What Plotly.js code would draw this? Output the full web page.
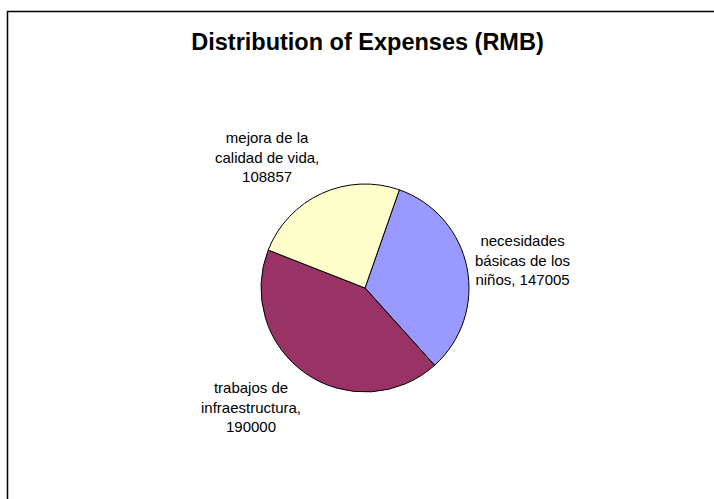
<!DOCTYPE html>
<html>
<head>
<meta charset="utf-8">
<script src="https://cdn.plot.ly/plotly-3.0.1.min.js"></script>
<style>html,body{margin:0;padding:0;background:#fff;}#chart{width:714px;height:499px;}</style>
</head>
<body>
<div id="chart"></div>
<script>
// Data
var labels = ["necesidades básicas de los niños", "trabajos de infraestructura", "mejora de la calidad de vida"];
var values = [147005, 190000, 108857];
var colors = ["#9999FF", "#993366", "#FFFFCC"];
var chartTitle = "Distribution of Expenses (RMB)";

// Label placement (paper pixels) for each slice's data label
var labelPos = [[522, 260], [251, 407], [267, 157]];

function wrap(text, maxChars) {
  var words = text.split(" "), lines = [], cur = "";
  words.forEach(function (w) {
    if (cur === "") cur = w;
    else if ((cur + " " + w).length <= maxChars) cur += " " + w;
    else { lines.push(cur); cur = w; }
  });
  if (cur) lines.push(cur);
  return lines.join("<br>");
}

var W = 714, H = 499;
var cx = 365, cy = 288, R = 104;

var trace = {
  type: "pie",
  labels: labels,
  values: values,
  sort: false,
  direction: "clockwise",
  rotation: 19.3,
  textinfo: "none",
  hoverinfo: "label+value+percent",
  marker: { colors: colors, line: { color: "#000000", width: 1 } },
  domain: { x: [(cx - R) / W, (cx + R) / W], y: [1 - (cy + R) / H, 1 - (cy - R) / H] },
  showlegend: false
};

var annotations = labels.map(function (l, i) {
  return {
    xref: "paper", yref: "paper",
    x: labelPos[i][0] / W, y: 1 - labelPos[i][1] / H,
    xanchor: "center", yanchor: "middle",
    text: wrap(l + ", " + values[i], 16),
    showarrow: false,
    align: "center",
    font: { family: "Liberation Sans, Arial, sans-serif", size: 15, color: "#000" }
  };
});

var layout = {
  width: W, height: H,
  margin: { l: 0, r: 0, t: 0, b: 0 },
  paper_bgcolor: "#ffffff",
  plot_bgcolor: "#ffffff",
  title: {
    text: "<b>" + chartTitle + "</b>",
    x: 367.5 / W, xanchor: "center", xref: "paper",
    y: 1 - 42 / H, yanchor: "middle", yref: "paper",
    font: { family: "Liberation Sans, Arial, sans-serif", size: 23.5, color: "#000" }
  },
  annotations: annotations,
  shapes: [{
    type: "rect", xref: "paper", yref: "paper",
    x0: 7.5 / W, x1: 1.05, y0: -0.05, y1: 1 - 11.5 / H,
    line: { color: "#000000", width: 1.5 }, fillcolor: "rgba(0,0,0,0)"
  }]
};

Plotly.newPlot("chart", [trace], layout, { displayModeBar: false, staticPlot: true });
</script>
</body>
</html>
